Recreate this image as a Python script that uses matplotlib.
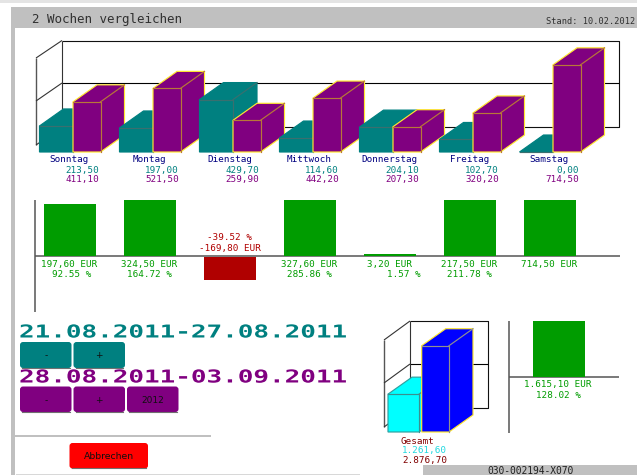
import matplotlib
matplotlib.use("Agg")
import matplotlib.pyplot as plt
from matplotlib.patches import Polygon, Rectangle, FancyBboxPatch
from matplotlib.patheffects import AbstractPathEffect
from matplotlib.transforms import Affine2D

days = ["Sonntag", "Montag", "Dienstag", "Mittwoch", "Donnerstag", "Freitag", "Samstag"]
week1 = [213.50, 197.00, 429.70, 114.60, 204.10, 102.70, 0.00]
week2 = [411.10, 521.50, 259.90, 442.20, 207.30, 320.20, 714.50]
diff_eur = [197.60, 324.50, -169.80, 327.60, 3.20, 217.50, 714.50]
diff_pct = [92.55, 164.72, -39.52, 285.86, 1.57, 211.78, None]
total1 = 1261.60
total2 = 2876.70
total_diff = 1615.10
total_pct = 128.02
period1 = "21.08.2011-27.08.2011"
period2 = "28.08.2011-03.09.2011"
title = "2 Wochen vergleichen"
stand = "Stand: 10.02.2012"
code = "030-002194-X070"

TEAL, PURPLE, GREEN, RED = "#008080", "#800080", "#009c00", "#b00000"
GREY = "#c0c0c0"
MONO = "DejaVu Sans Mono"
PCT_SHIFT = {0: 2.5, 4: 14}


class HStretch(AbstractPathEffect):
    def __init__(self, sx):
        super().__init__()
        self.sx = sx

    def draw_path(self, renderer, gc, tpath, affine, rgbFace=None):
        renderer.draw_path(gc, tpath, Affine2D().scale(self.sx, 1) + affine, rgbFace)


def de(v):
    s = f"{v:,.2f}"
    return s.replace(",", "#").replace(".", ",").replace("#", ".")


fig = plt.figure(figsize=(6.37, 4.75), dpi=100)
ax = fig.add_axes([0, 0, 1, 1])
ax.set_xlim(0, 637)
ax.set_ylim(475, 0)
ax.axis("off")


def txt(x, y, s, color="black", size=6.7, ha="center", **kw):
    return ax.text(x, y, s, color=color, fontsize=size, ha=ha, va="center", family=MONO, **kw)


def rect(x0, y0, x1, y1, color, z=1):
    ax.add_patch(Rectangle((x0, y0), x1 - x0, y1 - y0, fc=color, ec="none", zorder=z))


def line(xs, ys, color="black", lw=0.8, z=1.5):
    ax.plot(xs, ys, color=color, lw=lw, zorder=z, solid_capstyle="butt")


def bar3d(x0, w, base, h, face, inner, outer, dx=24, dy=17, z=3):
    x1 = x0 + w
    top = base - h
    sil = [(x0, base), (x1, base), (x1 + dx, base - dy), (x1 + dx, top - dy),
           (x0 + dx, top - dy), (x0, top)]
    ax.add_patch(Polygon(sil, closed=True, fc=face, ec=outer, lw=0.85, zorder=z, joinstyle="miter"))
    ax.plot([x0, x1, x1], [top, top, base], color=inner, lw=0.85, zorder=z)
    ax.plot([x1, x1 + dx], [top, top - dy], color=inner, lw=0.85, zorder=z)


def walls(xf, xb, xr, top_f, top_b, mid_f, mid_b, bot_f, bot_b):
    line([xb, xr, xr, xb], [top_b, top_b, bot_b, bot_b], "#111111")
    line([xb, xr], [mid_b, mid_b], "black")
    line([xb, xb], [top_b, bot_b], "#333333")
    line([xf, xf], [top_f, bot_f], "#555555", lw=1.0)
    line([xf, xb], [top_f, top_b], "#333333")
    line([xf, xb], [mid_f, mid_b], "#333333")
    line([xf, xb], [bot_f, bot_b], "#333333")


# page frame
rect(0, 0, 637, 3, "#e4e4e4")
rect(11, 7, 637, 28, GREY)
rect(11, 7, 15, 475, GREY)
rect(423, 465, 637, 475, GREY)
rect(16, 474, 360, 475, "#d8d8d8")
rect(15, 435, 211, 437, GREY)
txt(32, 19.5, title, color="#303030", size=9, ha="left")
txt(635, 22, stand, color="#303030", size=6.2, ha="right")
txt(530.5, 470.7, code, color="#202020", size=6.9)

# daily comparison
walls(36, 62, 619, 58, 40.5, 101, 83, 145, 127)
BASE = 152
SCALE = 0.122
for i, (d, a, b) in enumerate(zip(days, week1, week2)):
    x = 39.5 + 80 * i
    bar3d(x, 33.5, BASE, a * SCALE, TEAL, "#3a6f6f", TEAL)
    bar3d(x + 33.5, 27.5, BASE, b * SCALE, PURPLE, "#b87838", "#ffe830")
    cx = 69.5 + 80 * i
    txt(cx, 160, d, color="#000080")
    txt(cx + 29.5, 170.5, de(a), color=TEAL, ha="right")
    txt(cx + 29.5, 179.5, de(b), color=PURPLE, ha="right")

# daily difference
DIFF_ZERO, DIFF_SCALE, UP, DOWN = 256, 0.263, 56, 23
line([34.5, 34.5], [200, 312], "#555555", lw=1.1)
line([34.5, 620], [DIFF_ZERO, DIFF_ZERO], "#555555", lw=1.1)
for i, (e, p) in enumerate(zip(diff_eur, diff_pct)):
    x = 44 + 80 * i
    cx = 69.5 + 80 * i
    h = max(min(abs(e) * DIFF_SCALE, UP if e > 0 else DOWN), 1.6)
    if e > 0:
        ax.bar(x + 26, h, 52, bottom=DIFF_ZERO - h, color=GREEN, zorder=3)
        txt(cx, 264, de(e) + " EUR", color=GREEN)
        if p is not None:
            txt(cx + PCT_SHIFT.get(i, 0), 274.7, f"{p:.2f} %", color=GREEN)
    else:
        ax.bar(x + 26, h, 52, bottom=DIFF_ZERO + 0.5, color=RED, zorder=3)
        txt(cx, 248.7, de(e) + " EUR", color=RED)
        txt(cx, 237.3, f"{p:.2f} %", color=RED)

# period selectors
stretch = HStretch(1.46)
t1 = txt(19, 332.5, period1, color=TEAL, size=12.8, ha="left", weight="bold")
t1.set_path_effects([stretch])
t2 = txt(19, 377.5, period2, color=PURPLE, size=12.8, ha="left", weight="bold")
t2.set_path_effects([stretch])


def button(x0, y0, x1, y1, color, label, size=6.5):
    ax.add_patch(FancyBboxPatch((x0 + 2, y0 + 2), x1 - x0 - 4, y1 - y0 - 4,
                                boxstyle="round,pad=2,rounding_size=3",
                                fc=color, ec="none", zorder=3))
    ax.plot([x0 + 2, x1 - 2], [y1 - 0.3, y1 - 0.3], color="#707070", lw=0.8, zorder=4)
    ax.text((x0 + x1) / 2, (y0 + y1) / 2 + 1, label, fontsize=size, ha="center", va="center",
            family="DejaVu Sans", color="#101010", zorder=5)


button(20, 342, 71.5, 368, TEAL, "-")
button(73.5, 342, 125, 368, TEAL, "+")
button(20, 386.5, 71.5, 412, PURPLE, "-")
button(73.5, 386.5, 125, 412, PURPLE, "+")
button(127, 386.5, 178.5, 412, PURPLE, "2012")
button(69.5, 443, 148, 468.5, "#ff0000", "Abbrechen", size=6.7)

# total comparison
walls(384, 410, 488, 340, 321, 383, 364, 427, 408)
TOTAL_SCALE = 0.03
bar3d(388, 31, 432, total1 * TOTAL_SCALE, "#00ffff", "#3a8f8f", "#2f9f9f")
bar3d(421.7, 27.3, 432, total2 * TOTAL_SCALE, "#0000ff", "#909090", "#ffe830")
txt(417, 441, "Gesamt", color="#800000")
txt(447, 451, de(total1), color="#20d8e0", ha="right")
txt(447, 461, de(total2), color="#800000", ha="right")

# total difference
line([508.7, 508.7], [321, 433], "#555555", lw=1.1)
line([508.7, 619], [376.7, 376.7], "#555555", lw=1.1)
ax.bar(558.5, min(total_diff * DIFF_SCALE, UP), 52, bottom=376.7 - UP, color=GREEN, zorder=3)
txt(557.7, 385, de(total_diff) + " EUR", color=GREEN)
txt(558, 396, f"{total_pct:.2f} %", color=GREEN)

fig.savefig("out.png", dpi=100, facecolor="white")
